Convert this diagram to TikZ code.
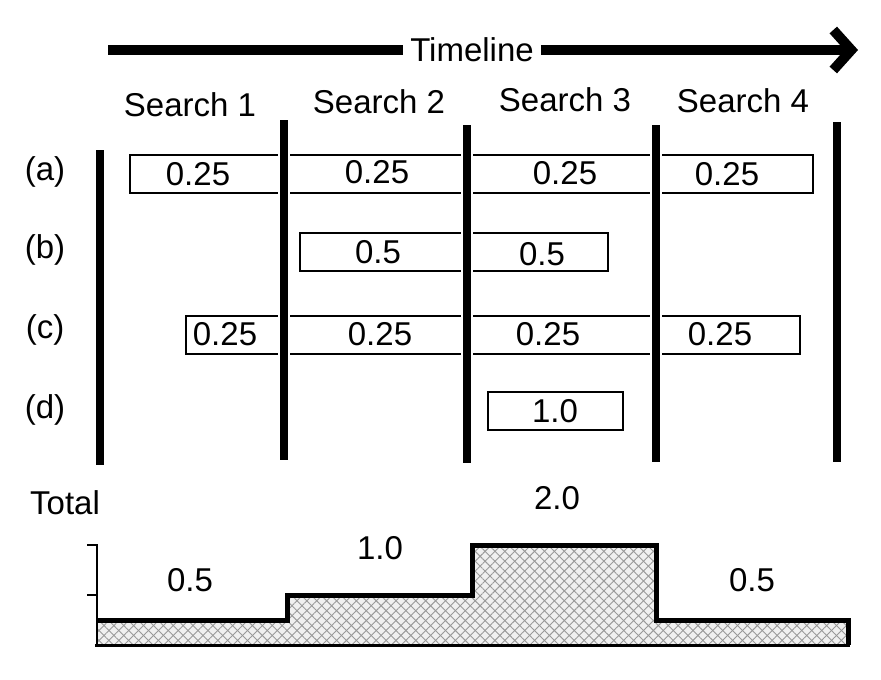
\documentclass[tikz,border=0pt]{standalone}
\usepackage{fontspec}
\setmainfont{Liberation Sans}
\usetikzlibrary{arrows.meta,patterns.meta}

\begin{document}
\begin{tikzpicture}[x=1pt, y=-1pt,
    every node/.style={font=\fontsize{33}{38}\selectfont, inner sep=0pt},
    bar/.style={line width=8pt, preaction={draw=white, line width=12pt}},
    slot/.style={draw=black, line width=1.6pt},
    step fill/.style={fill=gray!12,
        postaction={pattern={Lines[angle=45, distance=7pt, line width=0.9pt]}, pattern color=gray!80},
        postaction={pattern={Lines[angle=-45, distance=7pt, line width=0.9pt]}, pattern color=gray!80}}]
    \useasboundingbox (0,0) rectangle (881,680);

    \node[inner xsep=7pt] (tl) at (472,50) {Timeline};
    \coordinate (tlstart) at (108,50);
    \coordinate (tlend) at (858,50);
    \draw[line width=10pt] (tlstart) -- (tl.west);
    \draw[line width=10pt, -{Straight Barb[length=18pt, width=40pt]}] (tl.east) -- (tlend);

    \node (s1) at (190,105) {Search 1};
    \node (s2) at (379,102) {Search 2};
    \node (s3) at (565,100) {Search 3};
    \node (s4) at (743,101) {Search 4};

    \node (ra) at (45,172) {(a)};
    \node (rb) at (45,250) {(b)};
    \node (rc) at (45,330) {(c)};
    \node (rd) at (45,410) {(d)};

    \draw[slot] (130,155) rectangle (813,193);
    \draw[slot] (300,233) rectangle (608,271);
    \draw[slot] (186,316) rectangle (800,354);
    \draw[slot] (488,392) rectangle (623,430);

    \draw[bar] (100,150) -- (100,465);
    \draw[bar] (284,120) -- (284,460);
    \draw[bar] (467,125) -- (467,463);
    \draw[bar] (656,125) -- (656,462);
    \draw[bar] (837,122) -- (837,462);

    \node (a1) at (198,174) {0.25};
    \node (a2) at (377,172) {0.25};
    \node (a3) at (565,173) {0.25};
    \node (a4) at (727,174) {0.25};

    \node (b1) at (378,252) {0.5};
    \node (b2) at (542,254) {0.5};

    \node (c1) at (225,334) {0.25};
    \node (c2) at (380,334) {0.25};
    \node (c3) at (548,334) {0.25};
    \node (c4) at (720,334) {0.25};

    \node (d1) at (555,411) {1.0};

    % total
    \node (tot) at (65,503) {Total};
    \fill[step fill] (97,645) -- (97,620) -- (287,620) -- (287,595) -- (472,595)
        -- (472,545) -- (656,545) -- (656,620) -- (848,620) -- (848,645) -- cycle;
    \draw[line width=5pt] (97,620) -- (287,620) -- (287,595) -- (472,595)
        -- (472,545) -- (656,545) -- (656,620) -- (848,620) -- (848,645);
    \draw[line width=2.5pt] (87,545) -- (97,545) -- (97,645);
    \draw[line width=2pt] (87,595) -- (97,595);
    \draw[line width=3pt] (95,645) -- (850,645);

    \node (t1) at (190,580) {0.5};
    \node (t2) at (380,548) {1.0};
    \node (t3) at (557,498) {2.0};
    \node (t4) at (752,580) {0.5};
\end{tikzpicture}
\end{document}
